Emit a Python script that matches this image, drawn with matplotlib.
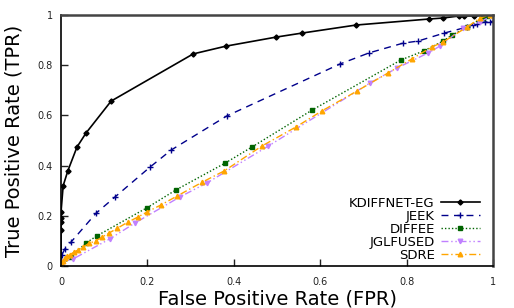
import matplotlib
matplotlib.use("Agg")
import matplotlib.pyplot as plt

kd_fpr = [0.0, 0.0, 0.0, 0.0, 0.0, 0.005, 0.016, 0.037, 0.058, 0.116, 0.306, 0.382, 0.498, 0.558, 0.683, 0.852, 0.884, 0.921, 0.933, 0.956, 0.986, 1.0]
kd_tpr = [0.0, 0.143, 0.175, 0.19, 0.215, 0.32, 0.38, 0.474, 0.53, 0.657, 0.845, 0.876, 0.912, 0.928, 0.96, 0.984, 0.988, 0.996, 0.996, 0.996, 1.0, 1.0]

jeek_fpr = [0.0, 0.002, 0.009, 0.023, 0.081, 0.125, 0.206, 0.255, 0.384, 0.646, 0.713, 0.792, 0.826, 0.887, 0.94, 0.954, 0.963, 0.981, 0.993, 1.0]
jeek_tpr = [0.0, 0.045, 0.068, 0.095, 0.21, 0.275, 0.394, 0.462, 0.598, 0.805, 0.849, 0.888, 0.896, 0.928, 0.952, 0.962, 0.964, 0.972, 0.973, 0.978]

diffee_fpr = [0.0, 0.023, 0.058, 0.083, 0.2, 0.266, 0.38, 0.442, 0.581, 0.787, 0.84, 0.884, 0.905, 0.94, 0.977, 0.987, 1.0]
diffee_tpr = [0.0, 0.036, 0.092, 0.12, 0.233, 0.303, 0.41, 0.474, 0.621, 0.821, 0.857, 0.896, 0.92, 0.952, 0.99, 0.996, 1.0]

jgl_fpr = [0.0, 0.005, 0.028, 0.113, 0.171, 0.275, 0.338, 0.48, 0.715, 0.778, 0.85, 0.877, 0.93, 0.97, 1.0]
jgl_tpr = [0.0, 0.016, 0.028, 0.108, 0.171, 0.275, 0.331, 0.478, 0.729, 0.789, 0.849, 0.876, 0.948, 0.972, 1.0]

sdre_fpr = [0.0, 0.005, 0.01, 0.015, 0.02, 0.03, 0.04, 0.05, 0.065, 0.08, 0.095, 0.11, 0.13, 0.155, 0.178, 0.199, 0.231, 0.269, 0.327, 0.378, 0.465, 0.544, 0.604, 0.685, 0.757, 0.812, 0.859, 0.884, 0.94, 0.97, 0.993, 1.0]
sdre_tpr = [0.01, 0.02, 0.03, 0.038, 0.045, 0.055, 0.065, 0.075, 0.09, 0.1, 0.115, 0.13, 0.15, 0.175, 0.195, 0.215, 0.243, 0.279, 0.334, 0.379, 0.478, 0.554, 0.618, 0.697, 0.769, 0.825, 0.873, 0.892, 0.952, 0.988, 1.0, 1.0]

labels = ["KDIFFNET-EG", "JEEK", "DIFFEE", "JGLFUSED", "SDRE"]
ticks = [0, 0.2, 0.4, 0.6, 0.8, 1]
tick_labels = ["0", "0.2", "0.4", "0.6", "0.8", "1"]

fig = plt.figure(figsize=(5.14, 3.08), dpi=100)
ax = fig.add_axes([0.1187, 0.1364, 0.8405, 0.8149])

ax.plot(kd_fpr, kd_tpr, color="black", lw=1.2, ls="-", marker="D", ms=2.6, label=labels[0])
ax.plot(jeek_fpr, jeek_tpr, color="#00008b", lw=1.0, ls=(0, (5, 4)), marker="+", ms=4.5, mew=1.0, label=labels[1])
ax.plot(diffee_fpr, diffee_tpr, color="#006400", lw=1.0, ls=(0, (1, 1.5)), marker="s", ms=3, mfc="#006400", label=labels[2])
ax.plot(jgl_fpr, jgl_tpr, color="#c080ff", lw=1.0, ls=(0, (5, 2, 1, 2, 1, 2)), marker="v", ms=3.3, label=labels[3])
ax.plot(sdre_fpr, sdre_tpr, color="#ffa500", lw=1.0, ls=(0, (5, 2, 1, 2)), marker="^", ms=3.3, label=labels[4])

ax.set_xlim(0, 1)
ax.set_ylim(0, 1)
ax.set_xticks(ticks)
ax.set_xticklabels(tick_labels)
ax.set_yticks(ticks)
ax.set_yticklabels(tick_labels)
ax.tick_params(direction="in", length=5, width=1, labelsize=7, colors="#222222", pad=6)
ax.tick_params(axis="x", pad=8)

for s in ["left", "bottom"]:
    ax.spines[s].set_linewidth(1.2)
    ax.spines[s].set_color("black")
for s in ["top", "right"]:
    ax.spines[s].set_linewidth(1.8)
    ax.spines[s].set_color("#444444")

ax.set_xlabel("False Positive Rate (FPR)", fontsize=14, labelpad=2)
ax.set_ylabel("True Positive Rate (TPR)", fontsize=14, labelpad=10)

leg = ax.legend(loc="lower right", bbox_to_anchor=(0.975, 0.005), markerfirst=False,
                frameon=False, fontsize=9.5, handlelength=2.9, handletextpad=0.5,
                labelspacing=0.0, borderaxespad=0.0, borderpad=0.2)
for t in leg.get_texts():
    t.set_ha("right")

fig.savefig("out.png", dpi=100)
